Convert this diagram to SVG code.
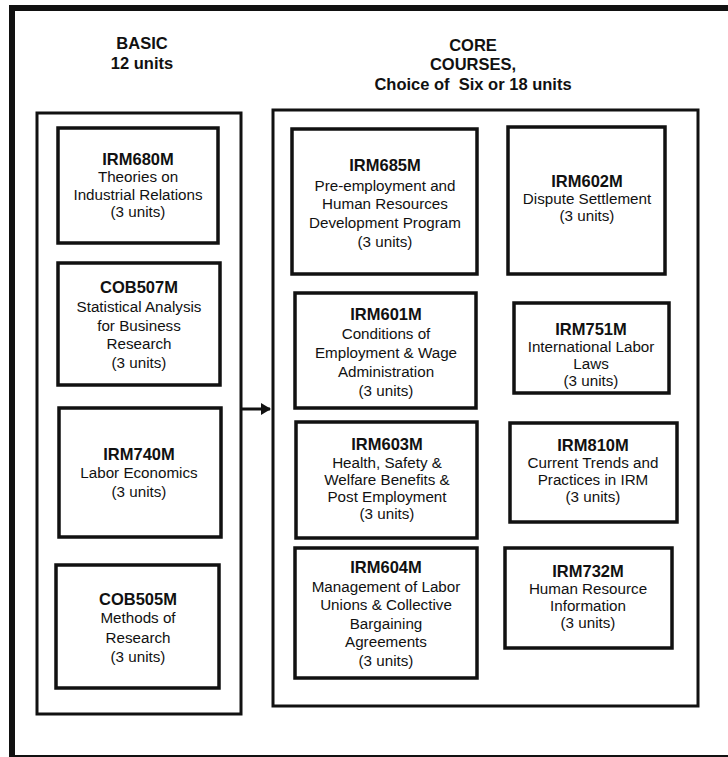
<svg xmlns="http://www.w3.org/2000/svg" width="728" height="757" viewBox="0 0 728 757">
<style>
.frame{fill:none;stroke:#111;stroke-width:6}
.grp{fill:none;stroke:#111;stroke-width:3}
.box{fill:#fff;stroke:#111;stroke-width:3.5}
text{font-family:"Liberation Sans",Arial,sans-serif;fill:#111;text-anchor:middle}
.hd{font-size:16.5px;font-weight:bold}
.code{font-size:16.5px;font-weight:bold}
.d{font-size:15.2px}
</style>
<defs>
<marker id="ah" markerWidth="10" markerHeight="12" refX="9" refY="6" orient="auto" markerUnits="userSpaceOnUse">
<path d="M0,0 L10,6 L0,12 Z" fill="#111"/>
</marker>
</defs>
<rect width="728" height="757" fill="#fff"/>
<rect class="frame" x="12" y="8" width="740" height="750"/>

<g id="header-basic">
<text class="hd" x="142" y="49">BASIC</text>
<text class="hd" x="142" y="69">12 units</text>
</g>
<g id="header-core">
<text class="hd" x="473" y="51">CORE</text>
<text class="hd" x="473" y="70">COURSES,</text>
<text class="hd" x="473" y="90" xml:space="preserve">Choice of  Six or 18 units</text>
</g>

<g id="basic-group"><rect class="grp" x="37" y="113" width="204" height="601"/></g>
<g id="core-group"><rect class="grp" x="273" y="110" width="425" height="596"/></g>

<g id="connectors">
<line x1="241" y1="409" x2="270" y2="409" stroke="#111" stroke-width="3" marker-end="url(#ah)"/>
</g>

<g id="IRM680M">
<rect class="box" x="58" y="128" width="160" height="115"/>
<text class="code" x="138" y="165">IRM680M</text>
<text class="d" x="138" y="182">Theories on</text>
<text class="d" x="138" y="200">Industrial Relations</text>
<text class="d" x="138" y="217">(3 units)</text>
</g>
<g id="COB507M">
<rect class="box" x="58" y="263" width="162" height="122"/>
<text class="code" x="139" y="293">COB507M</text>
<text class="d" x="139" y="312">Statistical Analysis</text>
<text class="d" x="139" y="331">for Business</text>
<text class="d" x="139" y="349">Research</text>
<text class="d" x="139" y="368">(3 units)</text>
</g>
<g id="IRM740M">
<rect class="box" x="59" y="408" width="162" height="129"/>
<text class="code" x="139" y="460">IRM740M</text>
<text class="d" x="139" y="478">Labor Economics</text>
<text class="d" x="139" y="497">(3 units)</text>
</g>
<g id="COB505M">
<rect class="box" x="56" y="565" width="163" height="123"/>
<text class="code" x="138" y="605">COB505M</text>
<text class="d" x="138" y="623">Methods of</text>
<text class="d" x="138" y="643">Research</text>
<text class="d" x="138" y="662">(3 units)</text>
</g>

<g id="IRM685M">
<rect class="box" x="292" y="129" width="185" height="145"/>
<text class="code" x="385" y="171">IRM685M</text>
<text class="d" x="385" y="191">Pre-employment and</text>
<text class="d" x="385" y="209">Human Resources</text>
<text class="d" x="385" y="228">Development Program</text>
<text class="d" x="385" y="247">(3 units)</text>
</g>
<g id="IRM602M">
<rect class="box" x="508" y="127" width="157" height="147"/>
<text class="code" x="587" y="187">IRM602M</text>
<text class="d" x="587" y="204">Dispute Settlement</text>
<text class="d" x="587" y="221">(3 units)</text>
</g>
<g id="IRM601M">
<rect class="box" x="295" y="293" width="181" height="115"/>
<text class="code" x="386" y="320">IRM601M</text>
<text class="d" x="386" y="339">Conditions of</text>
<text class="d" x="386" y="358">Employment &amp; Wage</text>
<text class="d" x="386" y="377">Administration</text>
<text class="d" x="386" y="396">(3 units)</text>
</g>
<g id="IRM751M">
<rect class="box" x="514" y="303" width="155" height="90"/>
<text class="code" x="591" y="335">IRM751M</text>
<text class="d" x="591" y="352">International Labor</text>
<text class="d" x="591" y="369">Laws</text>
<text class="d" x="591" y="386">(3 units)</text>
</g>
<g id="IRM603M">
<rect class="box" x="296" y="422" width="181" height="116"/>
<text class="code" x="387" y="450">IRM603M</text>
<text class="d" x="387" y="468">Health, Safety &amp;</text>
<text class="d" x="387" y="485">Welfare Benefits &amp;</text>
<text class="d" x="387" y="502">Post Employment</text>
<text class="d" x="387" y="519">(3 units)</text>
</g>
<g id="IRM810M">
<rect class="box" x="510" y="423" width="167" height="99"/>
<text class="code" x="593" y="451">IRM810M</text>
<text class="d" x="593" y="468">Current Trends and</text>
<text class="d" x="593" y="485">Practices in IRM</text>
<text class="d" x="593" y="502">(3 units)</text>
</g>
<g id="IRM604M">
<rect class="box" x="295" y="548" width="182" height="130"/>
<text class="code" x="386" y="573">IRM604M</text>
<text class="d" x="386" y="592">Management of Labor</text>
<text class="d" x="386" y="610">Unions &amp; Collective</text>
<text class="d" x="386" y="629">Bargaining</text>
<text class="d" x="386" y="647">Agreements</text>
<text class="d" x="386" y="666">(3 units)</text>
</g>
<g id="IRM732M">
<rect class="box" x="505" y="548" width="167" height="100"/>
<text class="code" x="588" y="577">IRM732M</text>
<text class="d" x="588" y="594">Human Resource</text>
<text class="d" x="588" y="611">Information</text>
<text class="d" x="588" y="628">(3 units)</text>
</g>
</svg>
